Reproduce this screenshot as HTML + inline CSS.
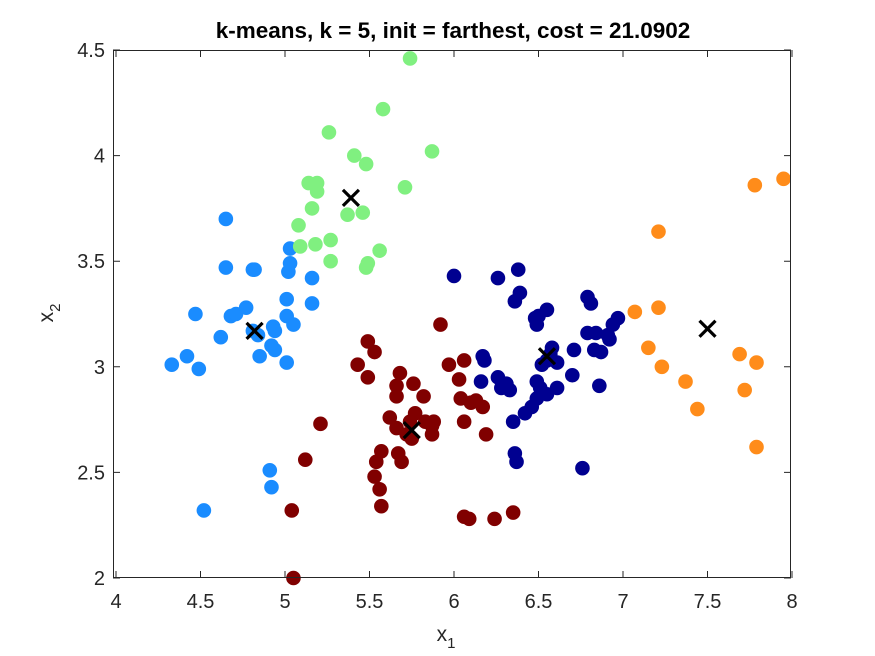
<!DOCTYPE html>
<html><head><meta charset="utf-8">
<style>
html,body{margin:0;padding:0;background:#fff;}
svg{display:block;font-family:"Liberation Sans",Arial,sans-serif;}
</style></head>
<body>
<svg id="chart" width="875" height="656" viewBox="0 0 875 656">
<rect x="0" y="0" width="875" height="656" fill="#fff"/>
<rect x="113.5" y="50.5" width="677" height="527" fill="#fff"/>
<g id="points"></g>
<g id="centroids"></g>
<rect x="113.5" y="50.5" width="677" height="527" fill="none" stroke="#262626" stroke-width="1"/>
<g id="ticks"></g>
<text x="453" y="38" text-anchor="middle" font-size="22.5" font-weight="bold" fill="#000">k-means, k = 5, init = farthest, cost = 21.0902</text>
<text x="446" y="641" text-anchor="middle" font-size="21" fill="#262626">x<tspan font-size="15" dy="7">1</tspan></text>
<text transform="translate(53,313) rotate(-90)" text-anchor="middle" font-size="21" fill="#262626">x<tspan font-size="15" dy="7">2</tspan></text>
</svg>
<script>
const xTicks=[4,4.5,5,5.5,6,6.5,7,7.5,8];
const xTickLabels=["4","4.5","5","5.5","6","6.5","7","7.5","8"];
const yTicks=[2,2.5,3,3.5,4,4.5];
const yTickLabels=["2","2.5","3","3.5","4","4.5"];
const clusterColors=["#1a8cff","#80f080","#800000","#000090","#ff8c1a"];
const c1x=[4.65,4.65,4.81,4.82,4.47,4.68,4.71,4.77,4.62,4.81,4.84,4.42,4.33,4.49,4.85,4.93,4.94,4.92,4.94,5.01,5.01,5.01,5.02,5.03,5.03,5.05,5.16,5.16,4.91,4.92,4.52];
const c1y=[3.70,3.47,3.46,3.46,3.25,3.24,3.25,3.28,3.14,3.17,3.15,3.05,3.01,2.99,3.05,3.19,3.17,3.10,3.08,3.02,3.24,3.32,3.45,3.49,3.56,3.20,3.42,3.30,2.51,2.43,2.32];
const c2x=[5.74,5.58,5.26,5.41,5.48,5.87,5.71,5.14,5.19,5.19,5.16,5.08,5.09,5.18,5.27,5.27,5.37,5.46,5.56,5.49,5.48];
const c2y=[4.46,4.22,4.11,4.00,3.96,4.02,3.85,3.87,3.87,3.83,3.75,3.67,3.57,3.58,3.60,3.50,3.72,3.73,3.55,3.49,3.47];
const c3x=[5.04,5.05,5.12,5.21,5.43,5.49,5.53,5.49,5.62,5.53,5.54,5.57,5.56,5.57,5.67,5.69,5.66,5.66,5.66,5.68,5.74,5.76,5.72,5.75,5.77,5.82,5.83,5.87,5.87,5.88,5.92,5.97,6.03,6.04,6.06,6.06,6.10,6.13,6.17,6.19,6.06,6.09,6.24,6.35];
const c3y=[2.32,2.00,2.56,2.73,3.01,3.12,3.07,2.95,2.76,2.48,2.55,2.60,2.42,2.34,2.59,2.55,2.71,2.86,2.91,2.97,2.74,2.92,2.68,2.66,2.78,2.86,2.74,2.72,2.68,2.74,3.20,3.01,2.94,2.85,3.03,2.74,2.83,2.84,2.81,2.68,2.29,2.28,2.28,2.31];
const c4x=[6.00,6.26,6.38,6.39,6.36,6.48,6.50,6.55,6.49,6.17,6.18,6.16,6.26,6.28,6.31,6.33,6.35,6.36,6.37,6.42,6.46,6.49,6.49,6.51,6.52,6.55,6.57,6.55,6.58,6.61,6.61,6.70,6.76,6.79,6.79,6.81,6.84,6.83,6.87,6.86,6.91,6.92,6.94,6.97,6.71];
const c4y=[3.43,3.42,3.46,3.35,3.31,3.23,3.24,3.27,3.20,3.05,3.03,2.93,2.95,2.90,2.92,2.89,2.74,2.59,2.55,2.78,2.81,2.85,2.93,2.90,3.01,3.03,3.06,2.87,3.09,2.90,3.02,2.96,2.52,3.16,3.33,3.30,3.16,3.08,3.07,2.91,3.15,3.13,3.20,3.23,3.08];
const c5x=[7.78,7.95,7.21,7.07,7.21,7.15,7.23,7.37,7.44,7.69,7.72,7.79,7.79];
const c5y=[3.86,3.89,3.64,3.26,3.28,3.09,3.00,2.93,2.80,3.06,2.89,3.02,2.62];
const centroidX=[4.82,5.39,5.75,6.55,7.50];
const centroidY=[3.17,3.80,2.70,3.05,3.18];

const NS="http://www.w3.org/2000/svg";
function sx(v){return 116+(v-4)*169;}
function sy(v){return 578-(v-2)*211.2;}
const pts=document.getElementById('points');
const clustersX=[c1x,c2x,c3x,c4x,c5x];
const clustersY=[c1y,c2y,c3y,c4y,c5y];
for(let k=0;k<5;k++){
  for(let i=0;i<clustersX[k].length;i++){
    const c=document.createElementNS(NS,'circle');
    c.setAttribute('cx',sx(clustersX[k][i]));
    c.setAttribute('cy',sy(clustersY[k][i]));
    c.setAttribute('r',7.3);
    c.setAttribute('fill',clusterColors[k]);
    
    
    pts.appendChild(c);
  }
}
const cg=document.getElementById('centroids');
for(let i=0;i<centroidX.length;i++){
  const x=sx(centroidX[i]),y=sy(centroidY[i]);
  const p=document.createElementNS(NS,'path');
  p.setAttribute('d',`M${x-8},${y-8}L${x+8},${y+8}M${x-8},${y+8}L${x+8},${y-8}`);
  p.setAttribute('stroke','#000');
  p.setAttribute('stroke-width','3.2');
  
  
  cg.appendChild(p);
}
const tg=document.getElementById('ticks');
for(let i=0;i<xTicks.length;i++){
  const x=sx(xTicks[i]);
  const l=document.createElementNS(NS,'path');
  l.setAttribute('d',`M${x},578V571M${x},50V57`);
  l.setAttribute('stroke','#262626');
  
  
  tg.appendChild(l);
  const t=document.createElementNS(NS,'text');
  t.setAttribute('x',x);t.setAttribute('y',608);
  t.setAttribute('text-anchor','middle');t.setAttribute('font-size','20');t.setAttribute('fill','#262626');
  t.textContent=xTickLabels[i];
  
  
  tg.appendChild(t);
}
for(let i=0;i<yTicks.length;i++){
  const y=sy(yTicks[i]);
  const l=document.createElementNS(NS,'path');
  l.setAttribute('d',`M113,${y}H120M791,${y}H784`);
  l.setAttribute('stroke','#262626');
  
  
  tg.appendChild(l);
  const t=document.createElementNS(NS,'text');
  t.setAttribute('x',105);t.setAttribute('y',y+7);
  t.setAttribute('text-anchor','end');t.setAttribute('font-size','20');t.setAttribute('fill','#262626');
  t.textContent=yTickLabels[i];
  
  
  tg.appendChild(t);
}
</script>
</body></html>
